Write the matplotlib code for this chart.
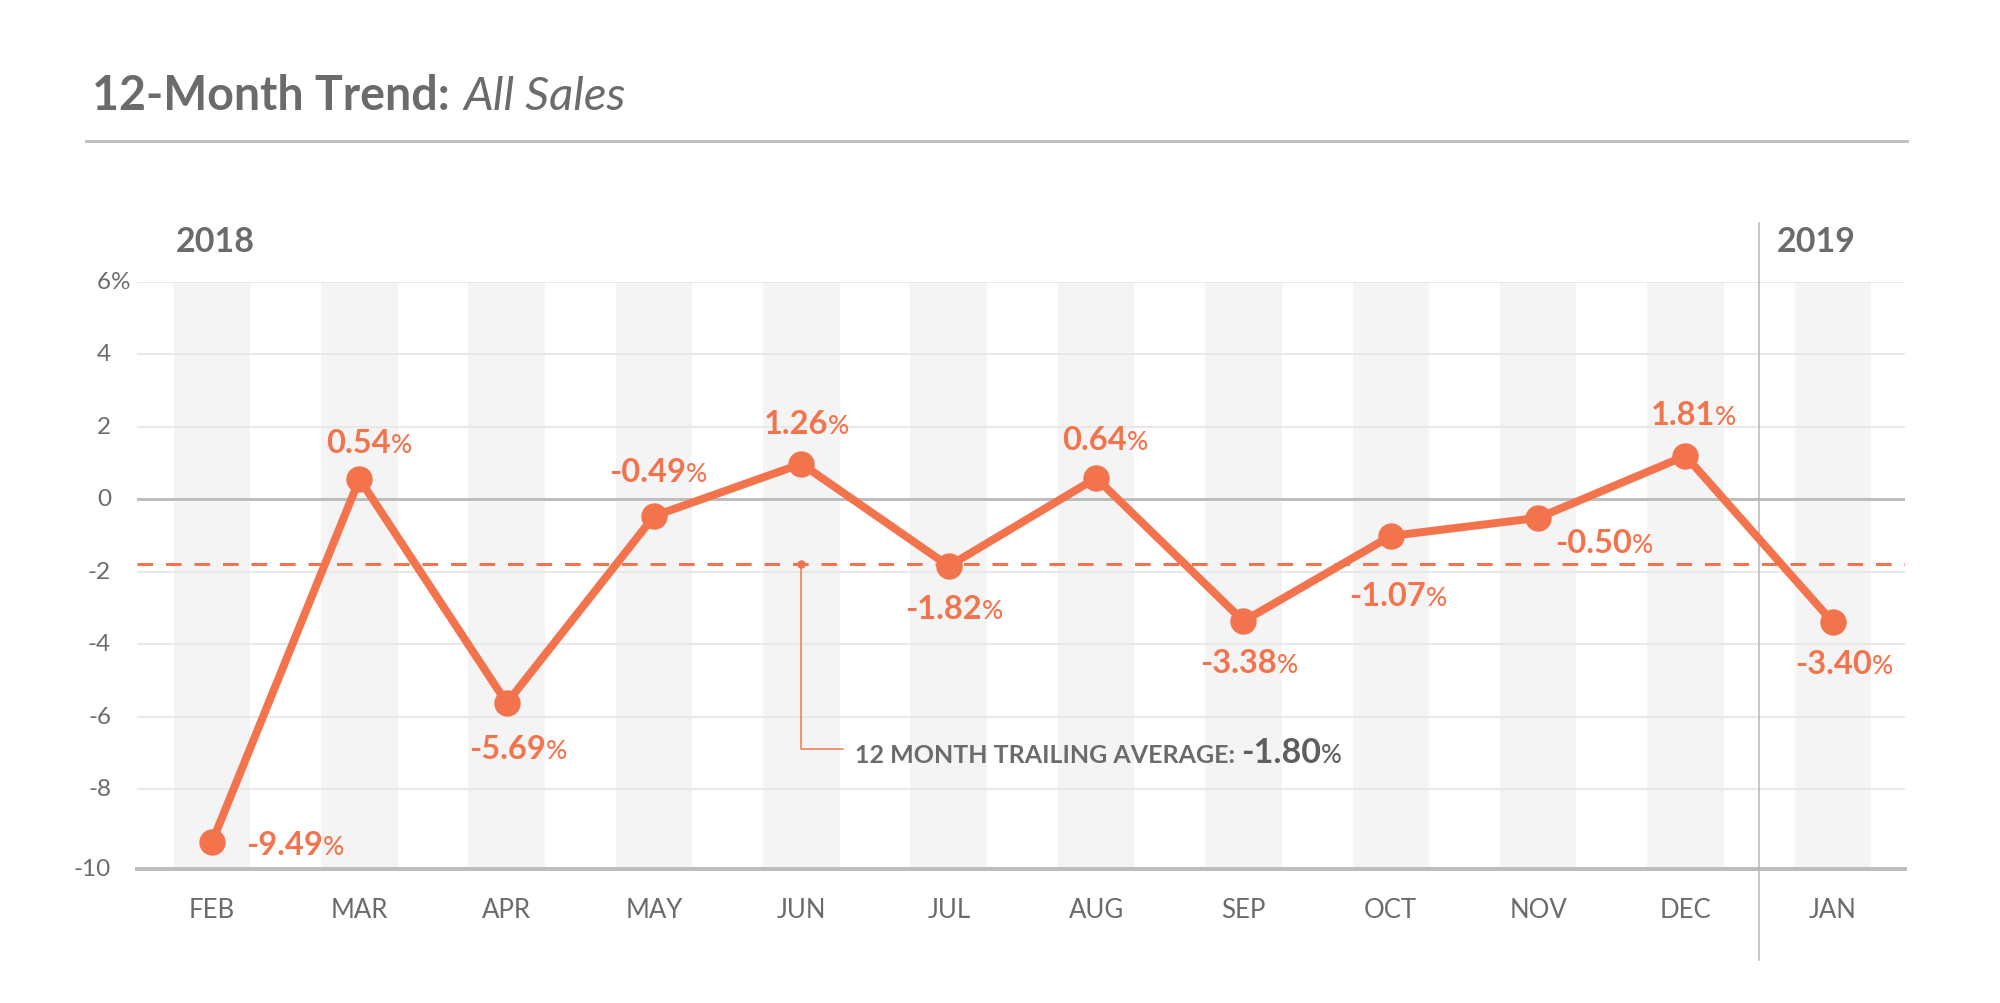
import matplotlib
matplotlib.use("Agg")
import matplotlib.pyplot as plt
import matplotlib.transforms as mtransforms
from matplotlib.lines import Line2D
from matplotlib.offsetbox import TextArea, HPacker, AnnotationBbox

plt.rcParams["font.family"] = ["Lato", "DejaVu Sans"]

# data
months = ["FEB", "MAR", "APR", "MAY", "JUN", "JUL", "AUG", "SEP", "OCT", "NOV", "DEC", "JAN"]
# marker heights as drawn in the chart (%)
values = [-9.46, 0.55, -5.63, -0.47, 0.97, -1.85, 0.58, -3.37, -1.02, -0.52, 1.19, -3.40]
# printed labels
labels = ["-9.49", "0.54", "-5.69", "-0.49", "1.26", "-1.82", "0.64", "-3.38", "-1.07", "-0.50", "1.81", "-3.40"]
trailing_avg = -1.80
trailing_label = "-1.80"
y_ticks = [6, 4, 2, 0, -2, -4, -6, -8, -10]
years = ["2018", "2019"]

ORANGE = "#f3734d"
GRAY = "#6b6b6b"
PX = 0.72  # points per pixel at dpi 100
BASE = -10.2  # bottom rule sits a little under the -10 step

# label placement: (dx px, dy px up, anchor)
label_pos = [(34, 0, "left"), (10, 39, "center"), (11, -43, "center"), (4, 47, "center"),
             (5, 43, "center"), (5, -40, "center"), (9, 41, "center"), (6, -39, "center"),
             (7, -57, "center"), (17, -22, "left"), (8, 44, "center"), (11, -39, "center")]

fig = plt.figure(figsize=(20, 10.04), dpi=100)
ax = fig.add_axes([137 / 2000, 141.5 / 1004, 1768 / 2000, 580 / 1004])
ax.set_xlim(-0.51, 11.49)
ax.set_ylim(-10, 6)
ax.axis("off")

x = list(range(len(months)))

# stripes
ax.bar(x, [6 - BASE] * len(x), bottom=BASE, width=0.52, color="#f4f4f4", zorder=0, clip_on=False)

# grid
for t in y_ticks:
    if t == 0:
        ax.axhline(t, color="#bdbdbd", lw=3 * PX, zorder=1)
    elif t == -10:
        ax.axhline(BASE, color="#bdbdbd", lw=4 * PX, zorder=1, clip_on=False)
    else:
        ax.axhline(t, color="#e8e8e8", lw=2 * PX, zorder=1)

# y labels
ytrans = mtransforms.blended_transform_factory(ax.transAxes, ax.transData)
for t in y_ticks:
    ty = BASE if t == -10 else t
    tl = ax.text(-0.0147, ty, str(t), transform=ytrans, ha="right", va="center",
                 fontsize=17.5, color=GRAY)
    if t == y_ticks[0]:
        ax.annotate("%", xy=(1, 0), xycoords=tl, ha="left", va="bottom",
                    fontsize=17.5, color=GRAY)

# x labels
xtrans = mtransforms.blended_transform_factory(ax.transData, ax.transAxes)
for i, m in enumerate(months):
    ax.text(i, -0.0957, m, transform=xtrans, ha="center", va="baseline",
            fontsize=18.5, color=GRAY)

# year separator and year labels
ax.axvline(10.5, ymin=-0.17, ymax=1.101, color="#b5b5b5", lw=1.5 * PX, clip_on=False, zorder=1)
ax.text(-0.25, 1.0526, years[0], transform=xtrans, ha="left", va="baseline",
        fontsize=24.5, fontweight="bold", color=GRAY)
ax.text(10.62, 1.0526, years[1], transform=xtrans, ha="left", va="baseline",
        fontsize=24.5, fontweight="bold", color=GRAY)

# trailing average
ax.axhline(trailing_avg, color=ORANGE, lw=3 * PX, dashes=(5.2, 4.3), zorder=2)

# main line
ax.plot(x, values, color=ORANGE, lw=8 * PX, marker="o", ms=25 * PX,
        solid_joinstyle="round", zorder=3, clip_on=False)

# data labels
for i, (lab, (dx, dy, anchor)) in enumerate(zip(labels, label_pos)):
    num = TextArea(lab, textprops=dict(fontsize=23.5, fontweight="bold", color=ORANGE))
    pct = TextArea("%", textprops=dict(fontsize=19, fontweight="medium", color=ORANGE))
    box = HPacker(children=[num, pct], align="baseline", pad=0, sep=0)
    ha = 0 if anchor == "left" else 0.5
    ab = AnnotationBbox(box, (x[i], values[i]), xybox=(dx * PX, (dy - 2.6) * PX),
                        boxcoords="offset points", box_alignment=(ha, 0.5),
                        frameon=False, pad=0, zorder=4)
    ax.add_artist(ab)

# trailing average callout
ax.plot([4], [trailing_avg], "o", color=ORANGE, ms=7 * PX, zorder=3)
ax.plot([4, 4, 4.284], [trailing_avg, -6.9, -6.9], color=ORANGE, lw=1.5 * PX, zorder=3)
t1 = TextArea("12 MONTH TRAILING AVERAGE: ", textprops=dict(fontsize=18, fontweight="bold", color=GRAY))
t2 = TextArea(trailing_label, textprops=dict(fontsize=24.5, fontweight="bold", color="#5e5e5e"))
t3 = TextArea("%", textprops=dict(fontsize=18.5, fontweight="medium", color="#5e5e5e"))
callout = HPacker(children=[t1, t2, t3], align="baseline", pad=0, sep=0)
ax.add_artist(AnnotationBbox(callout, (4.365, -6.9), xybox=(0, -3 * PX), boxcoords="offset points",
                             box_alignment=(0, 0.5), frameon=False, pad=0, zorder=4))

# title
title = fig.text(92 / 2000, 1 - 110 / 1004, "12-Month Trend:", fontsize=33.5,
                 fontweight="bold", color=GRAY, va="baseline")
ax.annotate("All Sales", xy=(1, 0), xycoords=title, xytext=(10, 0), textcoords="offset points",
            ha="left", va="bottom", fontsize=34, style="italic", fontweight="normal", color=GRAY,
            annotation_clip=False)
fig.add_artist(Line2D([86 / 2000, 1907 / 2000], [1 - 142 / 1004] * 2, lw=3 * PX, color="#c0c0c0"))

fig.savefig("out.png", dpi=100, facecolor="white")
